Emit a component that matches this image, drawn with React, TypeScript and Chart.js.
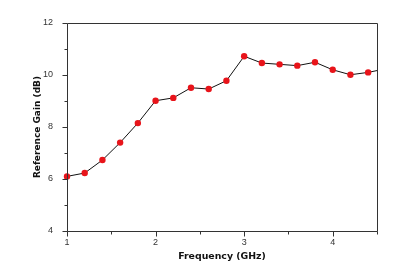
import React, { useEffect, useRef } from "react";
import { Chart, registerables } from "chart.js";

Chart.register(...registerables);

const frequencies = [1.0, 1.2, 1.4, 1.6, 1.8, 2.0, 2.2, 2.4, 2.6, 2.8, 3.0, 3.2, 3.4, 3.6, 3.8, 4.0, 4.2, 4.4, 4.6];
const gains = [6.1, 6.23, 6.73, 7.4, 8.15, 9.01, 9.12, 9.51, 9.46, 9.78, 10.72, 10.46, 10.41, 10.36, 10.49, 10.2, 10.01, 10.1, 10.24];
const xTicks = [1, 2, 3, 4];
const yTicks = [4, 6, 8, 10, 12];
const xMinorTicks = [1.5, 2.5, 3.5, 4.5];
const yMinorTicks = [5, 7, 9, 11];

const frameAndTicks = {
  id: "frameAndTicks",
  afterDraw(chart: any) {
    const { ctx, chartArea, scales } = chart;
    const { left, right, top, bottom } = chartArea;
    ctx.save();
    ctx.strokeStyle = "#333";
    ctx.lineWidth = 1;
    ctx.beginPath();
    ctx.rect(Math.round(left) + 0.5, Math.round(top) + 0.5, Math.round(right - left), Math.round(bottom - top));
    ctx.stroke();
    const x = scales.x;
    const y = scales.y;
    const drawX = (vals: number[], len: number) => {
      vals.forEach((v) => {
        const px = Math.round(x.getPixelForValue(v)) + 0.5;
        ctx.beginPath();
        ctx.moveTo(px, Math.round(bottom) + 0.5);
        ctx.lineTo(px, Math.round(bottom) + 0.5 + len);
        ctx.stroke();
      });
    };
    const drawY = (vals: number[], len: number) => {
      vals.forEach((v) => {
        const py = Math.round(y.getPixelForValue(v)) + 0.5;
        ctx.beginPath();
        ctx.moveTo(Math.round(left) + 0.5, py);
        ctx.lineTo(Math.round(left) + 0.5 - len, py);
        ctx.stroke();
      });
    };
    drawX(xTicks, 5);
    drawX(xMinorTicks, 3);
    drawY(yTicks, 5);
    drawY(yMinorTicks, 3);
    ctx.restore();
  },
};

export default function App() {
  const ref = useRef<HTMLCanvasElement>(null);
  useEffect(() => {
    document.body.style.margin = "0";
    const chart = new Chart(ref.current as HTMLCanvasElement, {
      type: "line",
      data: {
        datasets: [
          {
            data: frequencies.map((f, i) => ({ x: f, y: gains[i] })),
            borderColor: "#111",
            borderWidth: 1,
            backgroundColor: "#e8141a",
            pointBackgroundColor: "#e8141a",
            pointBorderColor: "#e8141a",
            pointRadius: 3.2,
            pointBorderWidth: 0,
            tension: 0,
            clip: { left: 6, top: 6, bottom: 6, right: 0 } as any,
          },
        ],
      },
      options: {
        animation: false,
        responsive: false,
        maintainAspectRatio: false,
        layout: { padding: { left: 32, right: 36, top: 23, bottom: 14 } },
        plugins: { legend: { display: false }, tooltip: { enabled: false } },
        scales: {
          x: {
            type: "linear",
            min: 1,
            max: 4.5,
            afterBuildTicks: (s: any) => {
              s.ticks = xTicks.map((v) => ({ value: v }));
            },
            grid: { display: false, drawTicks: false },
            border: { display: false },
            ticks: { color: "#333", padding: 6, font: { family: "Liberation Sans", size: 9 } },
            title: {
              display: true,
              text: "Frequency (GHz)",
              color: "#111",
              font: { family: "DejaVu Sans", size: 9.4, weight: "bold" },
              padding: { top: 0, bottom: 0 },
            },
            afterFit: (s: any) => {
              s.height = 31;
            },
          },
          y: {
            type: "linear",
            min: 4,
            max: 12,
            afterBuildTicks: (s: any) => {
              s.ticks = yTicks.map((v) => ({ value: v }));
            },
            grid: { display: false, drawTicks: false },
            border: { display: false },
            ticks: { color: "#333", padding: 14, font: { family: "Liberation Sans", size: 9 } },
            title: {
              display: true,
              text: "Reference Gain (dB)",
              color: "#111",
              font: { family: "DejaVu Sans", size: 9, weight: "bold" },
              padding: { top: 0, bottom: 0 },
            },
            afterFit: (s: any) => {
              s.width = 35;
            },
          },
        },
      },
      plugins: [frameAndTicks],
    });
    return () => chart.destroy();
  }, []);
  return (
    <div style={{ position: "absolute", left: 0, top: 0, width: 413, height: 276, background: "#fff" }}>
      <canvas ref={ref} width={413} height={276} style={{ width: 413, height: 276 }} />
    </div>
  );
}
